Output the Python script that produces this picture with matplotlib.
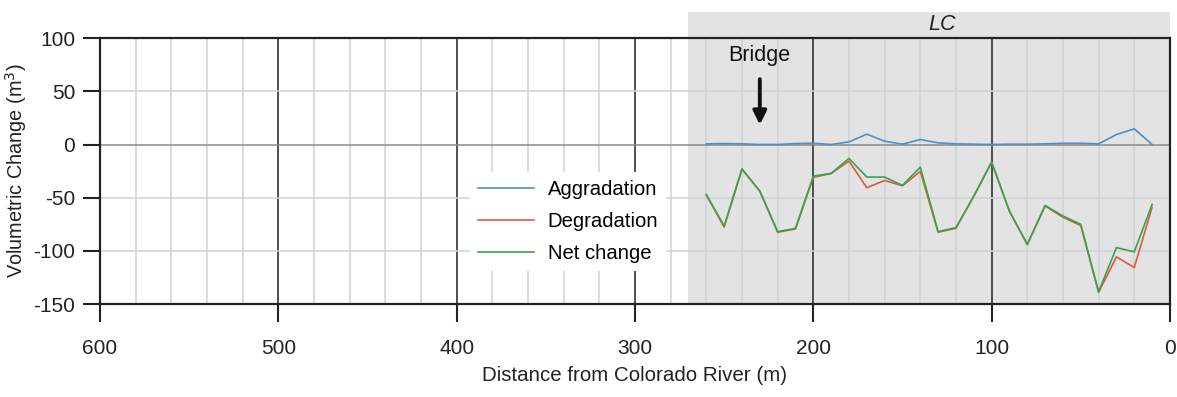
import matplotlib.pyplot as plt
from matplotlib.patches import Rectangle
from matplotlib.transforms import blended_transform_factory

plt.rcParams['font.family'] = ['Liberation Sans', 'DejaVu Sans']
plt.rcParams['axes.unicode_minus'] = False

# distance from Colorado River (m)
distance = [260, 250, 240, 230, 220, 210, 200, 190, 180, 170, 160, 150, 140,
            130, 120, 110, 100, 90, 80, 70, 60, 50, 40, 30, 20, 10]

aggradation = [0.6, 0.9, 0.6, 0.0, 0.0, 0.9, 1.2, 0.0, 2.5, 9.7, 3.1, 0.3, 4.7,
               1.6, 0.6, 0.3, 0.0, 0.3, 0.3, 0.6, 1.2, 1.2, 0.6, 9.4, 14.7, 0.0]

degradation = [-47.5, -77.5, -23.4, -43.8, -82.5, -79.4, -30.9, -27.2, -15.6, -40.6,
               -33.8, -38.8, -25.3, -82.5, -78.7, -48.7, -16.6, -62.8, -94.0, -57.8,
               -68.4, -76.2, -139.0, -105.6, -115.6, -59.0]

net_change = [-46.9, -76.6, -22.8, -43.8, -81.9, -78.8, -29.7, -27.2, -13.1, -30.6,
              -30.6, -38.4, -21.3, -81.9, -78.1, -48.4, -16.6, -62.5, -93.8, -57.2,
              -67.2, -75.0, -138.4, -96.9, -100.9, -56.3]

fig = plt.figure(figsize=(11.77, 3.97), dpi=100)
ax = fig.add_axes([0.085, 0.234, 0.909, 0.670])

ax.set_xlim(600, 0)
ax.set_ylim(-150, 100)

# LC reach shading (goes a bit above the axes for the label)
trans = blended_transform_factory(ax.transData, ax.transAxes)
ax.add_patch(Rectangle((270, 0), -270, 1.098, transform=trans, facecolor='#e3e3e3',
                       edgecolor='none', clip_on=False, zorder=0))
ax.text(128, 1.05, 'LC', transform=trans, ha='center', va='center',
        fontsize=15.5, style='italic', color='#222222')

# grid
for xv in range(20, 600, 20):
    if xv % 100 == 0:
        ax.axvline(xv, color='#222222', lw=1.1, zorder=1)
    else:
        ax.axvline(xv, color='#cdd3d3', lw=1.1, zorder=1)
for yv in [-100, -50, 50]:
    ax.axhline(yv, color='#cdd3d3', lw=1.1, zorder=1)
ax.axhline(0, color='#8a8a8a', lw=1.1, zorder=1)

ax.plot(distance, aggradation, color='#4d8fc8', lw=1.2, label='Aggradation', zorder=3)
ax.plot(distance, degradation, color='#e05a40', lw=1.2, label='Degradation', zorder=3)
ax.plot(distance, net_change, color='#35a64c', lw=1.2, label='Net change', zorder=4)

# bridge marker
ax.annotate('', xy=(230, 16), xytext=(230, 64),
            arrowprops=dict(arrowstyle='-|>', color='#111111', lw=2.8,
                            mutation_scale=20), zorder=5)
ax.text(230, 84, 'Bridge', ha='center', va='center', fontsize=15.5, color='#111111')

leg = ax.legend(loc='lower left', bbox_to_anchor=(0.336, 0.085), frameon=True,
                fontsize=14.6, handlelength=2.75, handletextpad=0.7,
                borderpad=0.4, labelspacing=0.65, fancybox=False)
leg.get_frame().set_edgecolor('none')
leg.get_frame().set_facecolor('white')
leg.get_frame().set_alpha(1)

ax.set_xticks([600, 500, 400, 300, 200, 100, 0])
ax.set_yticks([100, 50, 0, -50, -100, -150])
ax.tick_params(axis='x', direction='out', length=13, width=1.5, labelsize=15,
               pad=12, colors='#222222')
ax.tick_params(axis='y', direction='out', length=12, width=1.5, labelsize=15,
               pad=6, colors='#222222')
for s in ax.spines.values():
    s.set_linewidth(1.6)
    s.set_color('#222222')

ax.set_xlabel('Distance from Colorado River (m)', fontsize=14.8, color='#222222', labelpad=6)
ax.set_ylabel('Volumetric Change (m$^3$)', fontsize=14.3, color='#222222', labelpad=3)

fig.savefig('out.png', dpi=100)
